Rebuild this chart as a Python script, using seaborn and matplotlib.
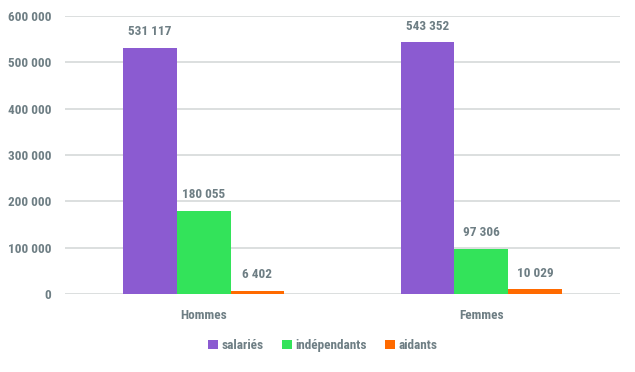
import matplotlib
matplotlib.use("Agg")
import matplotlib.pyplot as plt
import seaborn as sns
import pandas as pd
from matplotlib import font_manager
from matplotlib.ticker import FuncFormatter, MultipleLocator

categories = ["Hommes", "Femmes"]
series = ["salariés", "indépendants", "aidants"]
salaries = [531117, 543352]
independants = [180055, 97306]
aidants = [6402, 10029]
colors = ["#8b5bd1", "#33e35a", "#ff6a00"]

rows = []
for i, c in enumerate(categories):
    for s, vals in zip(series, [salaries, independants, aidants]):
        rows.append({"cat": c, "serie": s, "val": vals[i]})
df = pd.DataFrame(rows)

sns.set_theme(style="white")
names = {f.name for f in font_manager.fontManager.ttflist}
fam = None
for cand in ["Liberation Sans Narrow", "Roboto Condensed", "Roboto", "DejaVu Sans"]:
    if cand in names:
        fam = cand
        break
plt.rcParams["font.family"] = [fam, "DejaVu Sans"]
txt = "#6e7e84"
fs = 9.5

fig = plt.figure(figsize=(6.35, 3.72), dpi=100)
ax = fig.add_axes([65/635, 1-294/372, 555/635, (294-16)/372])
sns.barplot(data=df, x="cat", y="val", hue="serie", palette=colors, ax=ax,
            width=0.58, saturation=1, legend=True, zorder=3, linewidth=0)
ax.set_ylim(0, 600000)
ax.yaxis.set_major_locator(MultipleLocator(100000))
ax.yaxis.set_major_formatter(FuncFormatter(lambda v, p: f"{int(v):,}".replace(",", " ")))
ax.grid(axis="y", color="#dcdfdf", linewidth=1.4, zorder=0)
for sp in ax.spines.values():
    sp.set_visible(False)
ax.set_xlabel("")
ax.set_ylabel("")
ax.tick_params(axis="y", length=0, pad=10, labelsize=fs, labelcolor=txt)
ax.tick_params(axis="x", length=0, pad=11, labelsize=fs, labelcolor=txt)
for lab in ax.get_yticklabels() + ax.get_xticklabels():
    lab.set_fontweight("bold")
for cont in ax.containers:
    ax.bar_label(cont, labels=[f"{int(v):,}".replace(",", " ") for v in cont.datavalues],
                 padding=7, fontsize=fs, fontweight="bold", color=txt)
ax.legend(loc="upper center", bbox_to_anchor=(0.465, -0.12), ncol=3, frameon=False,
          handlelength=0.7, handleheight=0.7, handletextpad=0.3, columnspacing=1.4,
          prop={"weight": "bold", "size": fs}, labelcolor=txt)
fig.savefig("out.png", dpi=100)
